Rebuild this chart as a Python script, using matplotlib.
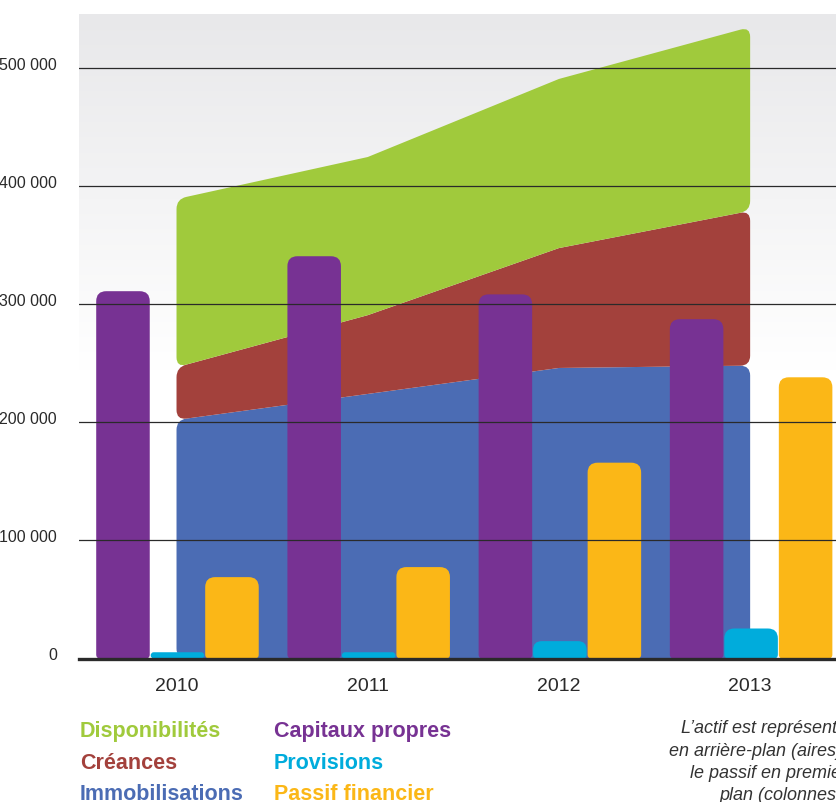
import numpy as np
import matplotlib
matplotlib.use("Agg")
import matplotlib.pyplot as plt
from matplotlib.path import Path
from matplotlib.patches import PathPatch
from matplotlib.colors import to_rgb
import matplotlib.transforms as mtransforms

# ---------------- data ----------------
years = ["2010", "2011", "2012", "2013"]
# actif (areas, stacked)
immobilisations = [202000, 224000, 246000, 248000]
creances = [44600, 66700, 101500, 131000]
disponibilites = [142400, 133900, 143200, 155700]
# passif (columns)
capitaux_propres = [311000, 340600, 308300, 287300]
provisions = [5300, 5300, 14700, 25400]
passif_financier = [68900, 77400, 165800, 238100]

y_ticks = [0, 100000, 200000, 300000, 400000, 500000]
y_tick_labels = ["0", "100 000", "200 000", "300 000", "400 000", "500 000"]

c_green = "#a0ca3c"
c_red = "#a3413c"
c_blue = "#4b6cb4"
c_purple = "#773293"
c_cyan = "#00acdc"
c_orange = "#fbb717"

legend_left = [("Disponibilités", c_green), ("Créances", c_red), ("Immobilisations", c_blue)]
legend_right = [("Capitaux propres", c_purple), ("Provisions", c_cyan), ("Passif financier", c_orange)]
note_lines = ["L\u2019actif est représenté", "en arrière-plan (aires),",
              "le passif en premier", "plan (colonnes)."]

tick_font = ["Liberation Sans", "DejaVu Sans"]

# ---------------- figure ----------------
W, H = 836, 802
fig = plt.figure(figsize=(W / 100, H / 100), dpi=100)
ax = fig.add_axes([79 / W, (H - 658.5) / H, 1 - 79 / W, (658.5 - 14) / H])
ax.set_xlim(-0.51, 3.449)
ax.set_ylim(0, 545700)
for s in ax.spines.values():
    s.set_visible(False)

x = np.arange(len(years))

# background gradient
top_c = np.array(to_rgb("#e8e8ea"))
n = 256
t = np.linspace(0, 1, n)[:, None]  # 0 bottom, 1 top
frac = np.clip((t - 0.45) / 0.55, 0, 1)
grad = (1 - frac)[:, :, None] * np.ones(3) + frac[:, :, None] * top_c
ax.imshow(grad, extent=[0, 1, 0, 1], transform=ax.transAxes, origin="lower",
          aspect="auto", zorder=0, interpolation="bilinear")


def rounded_patch(pts_data, radii, color, zorder):
    pts = ax.transData.transform(np.asarray(pts_data, float))
    verts, codes = [], []
    npts = len(pts)
    for i in range(npts):
        p = pts[i]
        r = radii[i]
        if r <= 0:
            verts.append(p)
            codes.append(Path.LINETO)
        else:
            prev = pts[i - 1]
            nxt = pts[(i + 1) % npts]
            d1 = prev - p
            d2 = nxt - p
            l1 = np.hypot(*d1)
            l2 = np.hypot(*d2)
            re = min(r, l1 / 2, l2 / 2)
            a = p + d1 / l1 * re
            b = p + d2 / l2 * re
            verts += [a, p, b]
            codes += [Path.LINETO, Path.CURVE3, Path.CURVE3]
    codes[0] = Path.MOVETO
    verts.append(verts[0])
    codes.append(Path.CLOSEPOLY)
    vd = ax.transData.inverted().transform(np.array(verts))
    patch = PathPatch(Path(vd, codes), facecolor=color, edgecolor="none",
                      zorder=zorder, transform=ax.transData)
    ax.add_patch(patch)
    return patch


# stacked areas
lower = np.zeros(len(years))
for vals, col in [(immobilisations, c_blue), (creances, c_red), (disponibilites, c_green)]:
    upper = lower + np.array(vals)
    pts = [(xi, ui) for xi, ui in zip(x, upper)] + [(xi, li) for xi, li in zip(x[::-1], lower[::-1])]
    radii = [10, 0, 0, 10, 10, 0, 0, 10]
    rounded_patch(pts, radii, col, zorder=1)
    lower = upper

# columns
bw = 0.28
for vals, off, col in [(capitaux_propres, -0.28, c_purple),
                       (provisions, 0.005, c_cyan),
                       (passif_financier, 0.29, c_orange)]:
    bars = ax.bar(x + off, vals, width=bw, color=col, zorder=2)
    for rect in bars:
        x0, y0 = rect.get_x(), rect.get_y()
        w, h = rect.get_width(), rect.get_height()
        pts = [(x0, y0), (x0, y0 + h), (x0 + w, y0 + h), (x0 + w, y0)]
        hpx = h / 545700 * 644.5
        rt = min(10, hpx / 2)
        rounded_patch(pts, [4, rt, rt, 4], col, zorder=3)
        rect.set_visible(False)

# grid lines & baseline
for yv in y_ticks[1:]:
    ax.axhline(yv, color="#2a2a2a", lw=0.9, zorder=5)
ax.axhline(0, color="#2a2a2a", lw=2.4, zorder=6, clip_on=False)

# ticks
ax.tick_params(axis="both", length=0)
ax.set_yticks(y_ticks)
ax.set_yticklabels(y_tick_labels, fontfamily=tick_font, fontsize=11.5, color="#2a2a2a")
ax.tick_params(axis="y", pad=15.8)
offset_y = mtransforms.ScaledTranslation(0, 4 / 100, fig.dpi_scale_trans)
for lab in ax.get_yticklabels():
    lab.set_transform(lab.get_transform() + offset_y)
ax.set_xticks(x)
ax.set_xticklabels(years, fontfamily=tick_font, fontsize=14, color="#2a2a2a")
ax.tick_params(axis="x", pad=14.2)

# legend as text
rows_y = [737, 769, 800]
for (lbl, col), yy in zip(legend_left, rows_y):
    fig.text(80 / W, (H - yy) / H, lbl, color=col, fontsize=15.5, fontweight="bold",
             fontfamily="Liberation Sans", ha="left", va="baseline")
for (lbl, col), yy in zip(legend_right, rows_y):
    fig.text(274 / W, (H - yy) / H, lbl, color=col, fontsize=15.5, fontweight="bold",
             fontfamily="Liberation Sans", ha="left", va="baseline")

note_y = [733, 756, 778, 800]
for line, yy in zip(note_lines, note_y):
    fig.text(847 / W, (H - yy) / H, line, color="#333333", fontsize=13, style="italic",
             fontfamily="Liberation Sans", ha="right", va="baseline")

fig.savefig("out.png", dpi=100)
